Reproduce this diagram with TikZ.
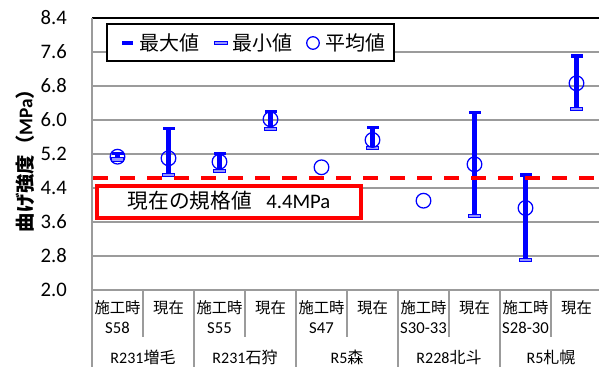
\documentclass[tikz,border=0pt]{standalone}
\usepackage{fontspec}
\setmainfont{Carlito}
\newfontfamily\cjk{Noto Sans CJK JP}
\definecolor{gridgray}{RGB}{155,155,155}
\definecolor{lightblue}{RGB}{150,150,255}
\begin{document}
\begin{tikzpicture}[x=0.75pt,y=-0.75pt,
  grid/.style={draw=gridgray,line width=0.9pt},
  errline/.style={blue,line width=3.2pt},
  mincap/.style={draw=blue,fill=lightblue,line width=0.7pt},
  avg/.style={circle,draw=blue,line width=0.95pt,inner sep=0pt,minimum size=11pt},
  ticklab/.style={anchor=east,inner sep=0pt,font=\fontsize{15.5pt}{18pt}\selectfont},
  catlab/.style={inner sep=0pt,font=\cjk\fontsize{11.5pt}{13pt}\selectfont},
  yearlab/.style={inner sep=0pt,font=\fontsize{12.5pt}{14pt}\selectfont},
  grplab/.style={inner sep=0pt,font=\fontsize{12pt}{14pt}\selectfont},
  legtext/.style={anchor=west,inner sep=0pt,font=\cjk\fontsize{15pt}{18pt}\selectfont},
  ]
\useasboundingbox (0,0) rectangle (599,367);
\fill[white] (0,0) rectangle (599,367);
% gridlines
\foreach \k in {0,...,7} {\draw[grid] (92,{290-34*\k}) -- (599,{290-34*\k});}
\draw[black,line width=0.9pt] (92,18) -- (599,18);
% axes
\draw[grid] (92,18) -- (92,367);
% category separators
\foreach \xx in {143,245,347,449,551} {\draw[grid] (\xx,290) -- (\xx,337);}
\foreach \xx in {194,296,398,500} {\draw[grid] (\xx,290) -- (\xx,367);}
% tick labels
\foreach \v [count=\k from 0] in {2.0,2.8,3.6,4.4,5.2,6.0,6.8,7.6,8.4}
  {\node[ticklab] (t\k) at (67,{290-34*\k}) {\v};}
% y title
\node[rotate=90,inner sep=0pt] (ytitle) at (25,156)
  {\fontsize{14.5pt}{17pt}\selectfont\bfseries{\cjk 曲げ強度（}MPa{\cjk ）}};
% category labels
\foreach \i/\t in {0/施工時,1/現在,2/施工時,3/現在,4/施工時,5/現在,6/施工時,7/現在,8/施工時,9/現在}
  {\node[catlab] (c\i) at ({117.5+51*\i},308) {\t};}
\foreach \i/\t in {0/S58,2/S55,4/S47,6/S30-33,8/S28-30}
  {\node[yearlab] (y\i) at ({117.5+51*\i},328) {\t};}
\node[grplab] (g0) at (143,357.5) {R231{\cjk 増毛}};
\node[grplab] (g1) at (245,357.5) {R231{\cjk 石狩}};
\node[grplab] (g2) at (347,357.5) {R5{\cjk 森}};
\node[grplab] (g3) at (449,357.5) {R228{\cjk 北斗}};
\node[grplab] (g4) at (551,357.5) {R5{\cjk 札幌}};
% legend
\draw[black,fill=white,line width=0.8pt] (107,24) rectangle (394,61);
\fill[blue] (122,41.3) rectangle (133,44.7);
\node[legtext] (l1) at (139,43) {最大値};
\draw[mincap] (214,41.5) rectangle (227,44.5);
\node[legtext] (l2) at (232,43) {最小値};
\node[circle,draw=blue,line width=0.95pt,inner sep=0pt,minimum size=9.4pt] (l3c) at (313,43) {};
\node[legtext] (l3) at (325,43) {平均値};
% red box
\draw[red,fill=white,line width=2.6pt] (97,186) rectangle (361,218);
\node[inner sep=0pt] (spec) at (229,201)
  {\fontsize{15.5pt}{18pt}\selectfont{\cjk 現在の規格値}\hspace{11pt}4.4MPa};
% error bars
\newcommand{\ebar}[3]{%
  \draw[errline] (#1,#2) -- (#1,#3);
  \fill[blue] ({#1-6},{#2-1.7}) rectangle ({#1+6},{#2+1.7});
  \draw[mincap] ({#1-6},{#3-1.6}) rectangle ({#1+6},{#3+1.6});
}
\ebar{117.5}{153.5}{159.5}
\ebar{168.5}{128.3}{175}
\ebar{219.5}{153.3}{170.7}
\ebar{270.5}{111.7}{129}
\ebar{372.5}{127.3}{147.7}
\ebar{474.5}{112.7}{215.7}
\ebar{525.5}{175}{259.7}
\ebar{576.5}{56}{108.7}
\node[avg] (a0) at (117.5,156.7) {};
\node[avg] (a1) at (168.5,158.3) {};
\node[avg] (a2) at (219.5,161.7) {};
\node[avg] (a3) at (270.5,119.3) {};
\node[avg] (a4) at (321.5,167.3) {};
\node[avg] (a5) at (372.5,140) {};
\node[avg] (a6) at (423.5,200.7) {};
\node[avg] (a7) at (474.5,164.3) {};
\node[avg] (a8) at (525.5,208) {};
\node[avg] (a9) at (576.5,83.3) {};
% spec line
\draw[red,line width=3pt,dash pattern=on 11.25pt off 9pt] (93,178.3) -- (599,178.3);
\end{tikzpicture}
\end{document}
